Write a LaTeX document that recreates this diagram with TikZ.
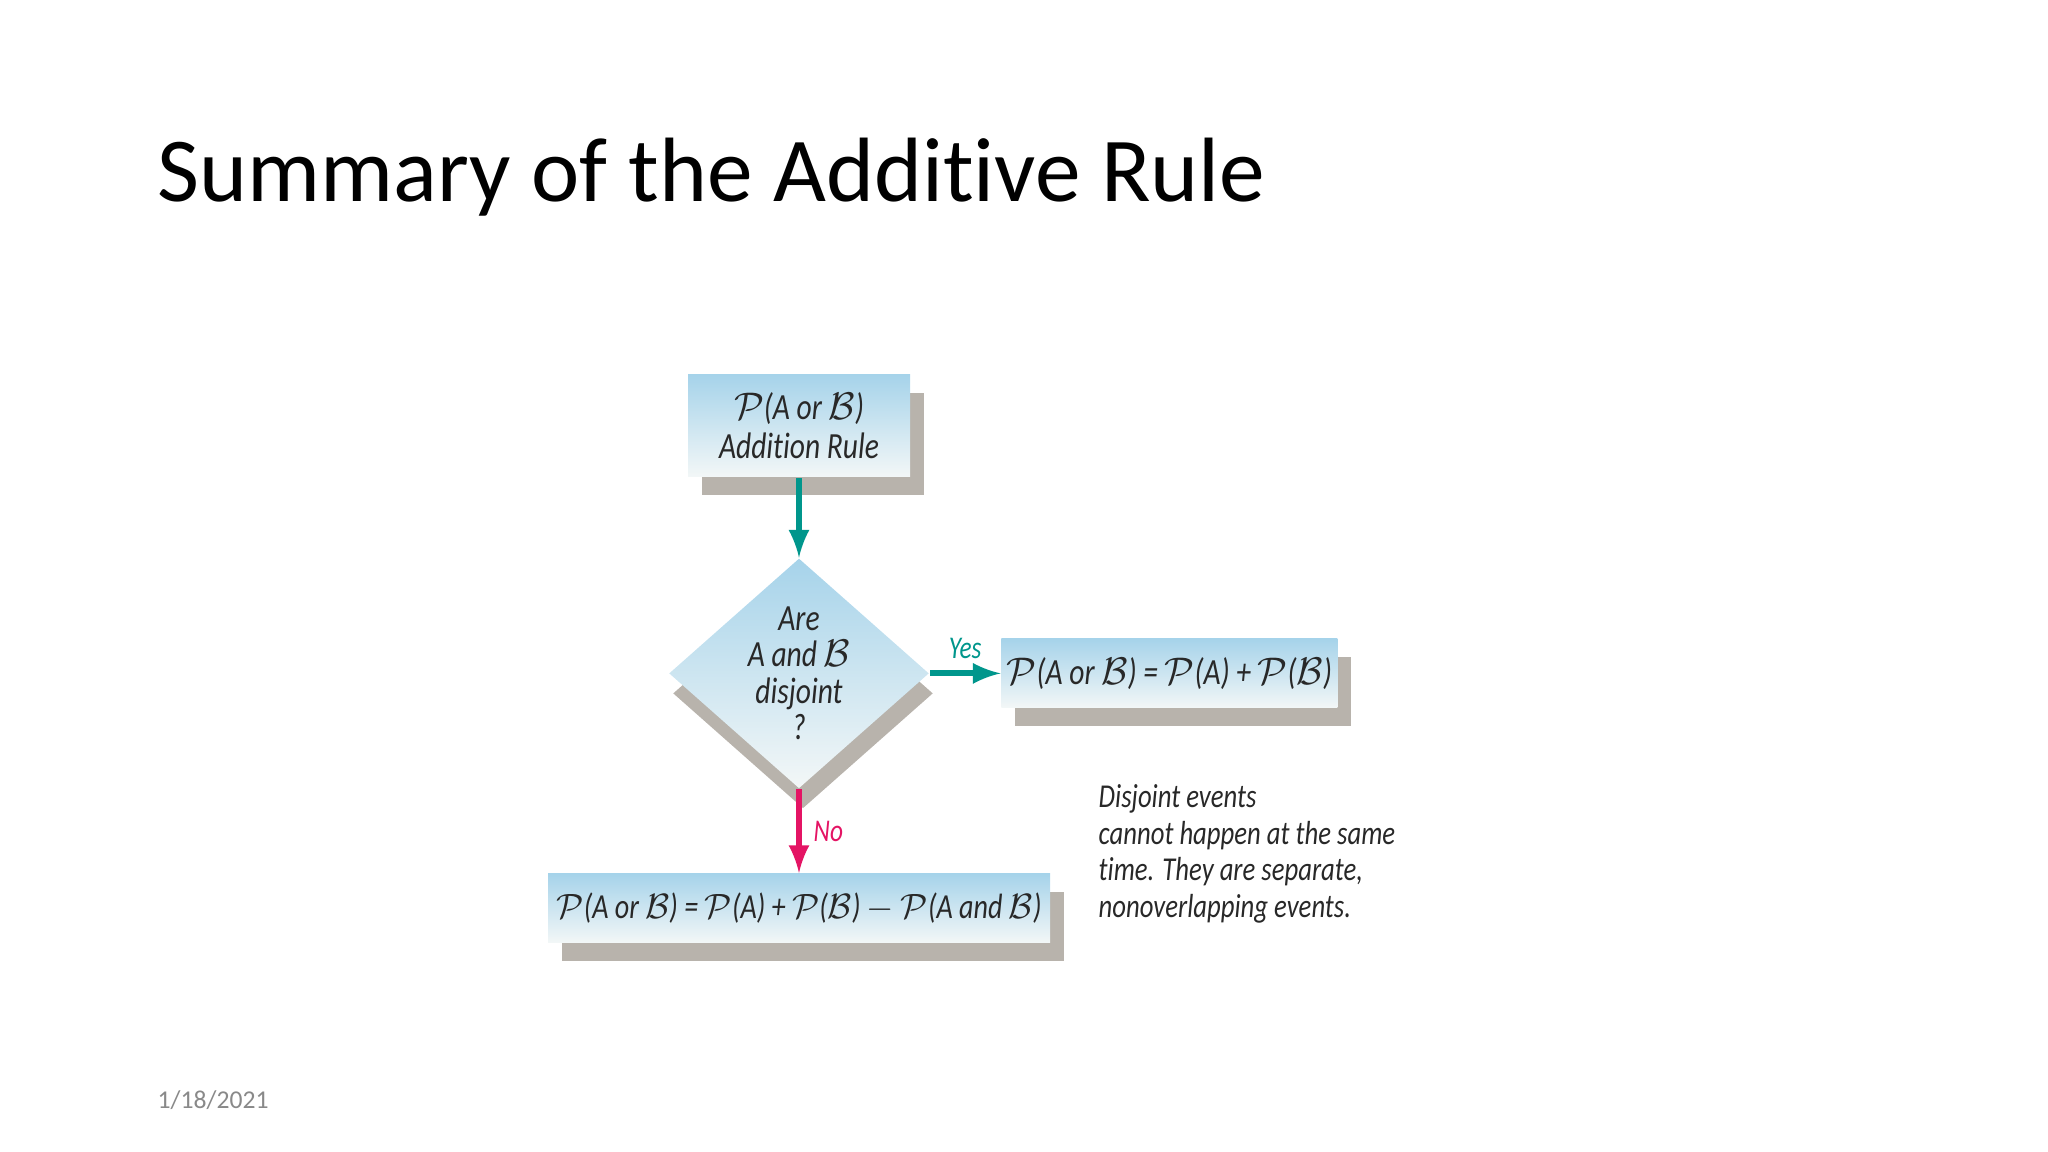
\documentclass[tikz,border=0pt]{standalone}
\usepackage{fontspec}
\setmainfont{Carlito}[Ligatures=NoCommon]
\newfontfamily\hand{Carlito Italic}[Ligatures=NoCommon, FakeStretch=0.8]
\usepackage{tikz}
\usetikzlibrary{arrows,positioning,shapes.geometric,shadows}

\definecolor{boxblue}{RGB}{166,211,234}
\definecolor{boxwhite}{RGB}{243,247,247}
\definecolor{shadowgray}{RGB}{184,179,172}
\definecolor{yesgreen}{RGB}{0,150,140}
\definecolor{nopink}{RGB}{228,20,100}
\definecolor{inkgray}{RGB}{40,40,40}
\definecolor{dategray}{RGB}{137,137,137}

\newcommand{\PP}{\ensuremath{\mathcal{P}}}
\newcommand{\BB}{\ensuremath{\mathcal{B}}}

\begin{document}
\begin{tikzpicture}
		[box/.style={rectangle, top color=boxblue, bottom color=boxwhite, inner sep=0mm, minimum height=0.69cm, text=inkgray, font=\hand\fontsize{10.5}{11}\selectfont,
			drop shadow={shadow xshift=0.14cm, shadow yshift=-0.18cm, fill=shadowgray, opacity=1}},
		decision/.style={diamond, top color=boxblue, bottom color=boxwhite, inner sep=0mm, minimum width=2.6cm, minimum height=2.3cm,
			drop shadow={shadow xshift=0.04cm, shadow yshift=-0.2cm, fill=shadowgray, opacity=1}},
		link/.style={line width=1.7pt}]

	\useasboundingbox (0,0) rectangle (20.48,11.52);

	\node[anchor=base west, inner sep=0mm, font=\fontsize{26}{32}\selectfont] (title) at (1.57,9.50) {Summary of the Additive Rule};
	\node[anchor=west, inner sep=0mm, text=dategray, font=\fontsize{7.3}{9}\selectfont] (date) at (1.57,0.52) {1/18/2021};

	\node[box] (rule) [minimum width=2.22cm, minimum height=1.02cm, align=center] at (7.99,7.26) {\PP(A or \BB)\\Addition Rule};
	\node[decision] (disj) [below=0.8cm of rule] {}
		edge [link, draw=yesgreen, latex-] (rule);
	\node[align=center, text=inkgray, font=\hand\fontsize{10.5}{10.4}\selectfont] (question) at (disj) {Are\\A and \BB\\disjoint\\?};
	\node[box] (special) [right=0.71cm of disj, minimum width=3.36cm] {\PP(A or \BB) = \PP(A) + \PP(\BB)}
		edge [link, draw=yesgreen, latex-] node[above, text=yesgreen, font=\hand\small] {Yes} (disj);
	\node[box] (general) [below=0.84cm of disj, minimum width=5.02cm, font=\hand\fontsize{10}{11}\selectfont] {\PP(A or \BB) = \PP(A) + \PP(\BB) $-$ \PP(A and \BB)}
		edge [link, draw=nopink, latex-] node[right, text=nopink, font=\hand\small] {No} (disj);

	\node[anchor=west, inner sep=0mm, align=left, text=inkgray, font=\hand\fontsize{9.5}{10.4}\selectfont] (note) at (10.98,2.98)
		{Disjoint events\\cannot happen at the same\\time. They are separate,\\nonoverlapping events.};
\end{tikzpicture}
\end{document}
